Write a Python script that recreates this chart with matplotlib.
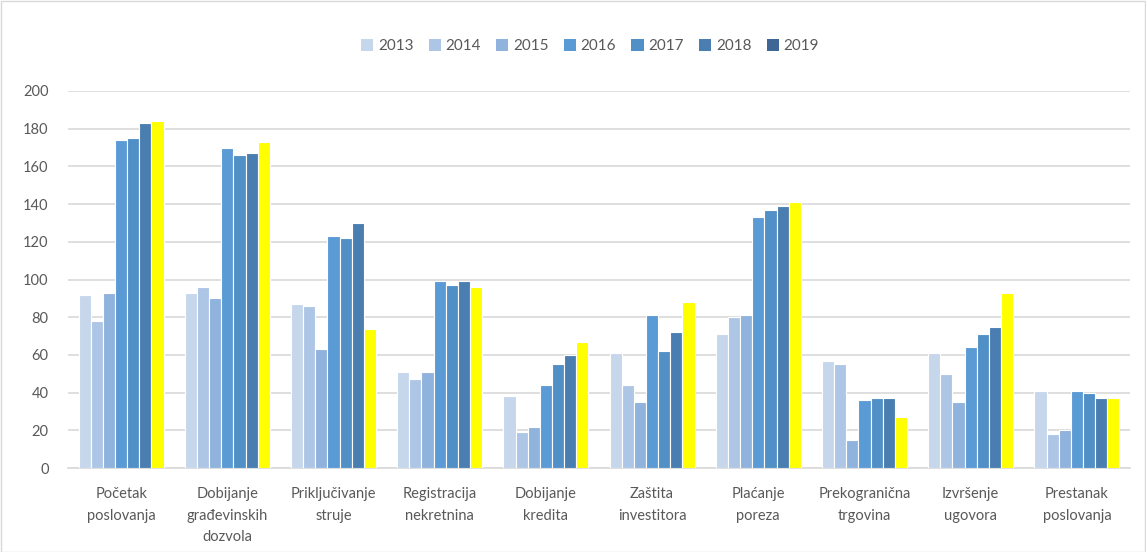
import matplotlib
matplotlib.use("Agg")
import matplotlib.pyplot as plt
import numpy as np
from matplotlib.patches import Patch, Rectangle

categories = ["Početak\nposlovanja", "Dobijanje\ngrađevinskih\ndozvola", "Priključivanje\nstruje",
              "Registracija\nnekretnina", "Dobijanje\nkredita", "Zaštita\ninvestitora",
              "Plaćanje\nporeza", "Prekogranična\ntrgovina", "Izvršenje\nugovora", "Prestanak\nposlovanja"]
years = ["2013", "2014", "2015", "2016", "2017", "2018", "2019"]
v2013 = [92, 93, 87, 51, 38, 61, 71, 57, 61, 41]
v2014 = [78, 96, 86, 47, 19, 44, 80, 55, 50, 18]
v2015 = [93, 90, 63, 51, 22, 35, 81, 15, 35, 20]
v2016 = [174, 170, 123, 99, 44, 81, 133, 36, 64, 41]
v2017 = [175, 166, 122, 97, 55, 62, 137, 37, 71, 40]
v2018 = [183, 167, 130, 99, 60, 72, 139, 37, 75, 37]
v2019 = [184, 173, 74, 96, 67, 88, 141, 27, 93, 37]
series = [v2013, v2014, v2015, v2016, v2017, v2018, v2019]

legend_colors = ["#C6D7EC", "#AEC6E6", "#8FB3DD", "#5B9BD5", "#5190C6", "#4A7EB1", "#3E6795"]
bar_colors = legend_colors[:6] + ["#FFFF00"]

plt.rcParams['font.family'] = ['Lato', 'DejaVu Sans']
fig = plt.figure(figsize=(11.46, 5.52), dpi=100)
ax = fig.add_axes([68/1146, 1-468/552, (1130-68)/1146, (468-91)/552])

n = len(years)
x = np.arange(len(categories))
w = 0.8 / n
for i, vals in enumerate(series):
    ax.bar(x - 0.4 + w*(i+0.5), vals, width=w, color=bar_colors[i],
           edgecolor="white", linewidth=0.8, zorder=3)

ax.set_xlim(-0.5, len(categories)-0.5)
ax.set_ylim(0, 200)
ax.set_yticks(np.arange(0, 201, 20))
ax.yaxis.grid(True, color="#D9D9D9", linewidth=1.2, zorder=0)
ax.set_xticks(x)
ax.set_xticklabels(categories, fontsize=10.5, color="#595959", linespacing=1.65)
ax.tick_params(axis='y', labelsize=10.5, labelcolor="#595959", length=0, pad=14)
ax.tick_params(axis='x', length=0, pad=14)
for s in ["top", "right", "left"]:
    ax.spines[s].set_visible(False)
ax.spines["bottom"].set_color("#D9D9D9")
ax.spines["bottom"].set_linewidth(1.2)

handles = [Patch(facecolor=c, edgecolor="none") for c in legend_colors]
fig.legend(handles, years, loc="center", bbox_to_anchor=(590/1146, 1-46/552), ncol=7,
           frameon=False, fontsize=11, handlelength=0.8, handleheight=0.8,
           handletextpad=0.3, columnspacing=1.0, labelcolor="#595959")

fig.patches.append(Rectangle((0.5/1146, 0.5/552), 1-1.5/1146, 1-1.5/552, transform=fig.transFigure,
                             fill=False, edgecolor="#D9D9D9", linewidth=1))

fig.savefig("out.png", dpi=100)
